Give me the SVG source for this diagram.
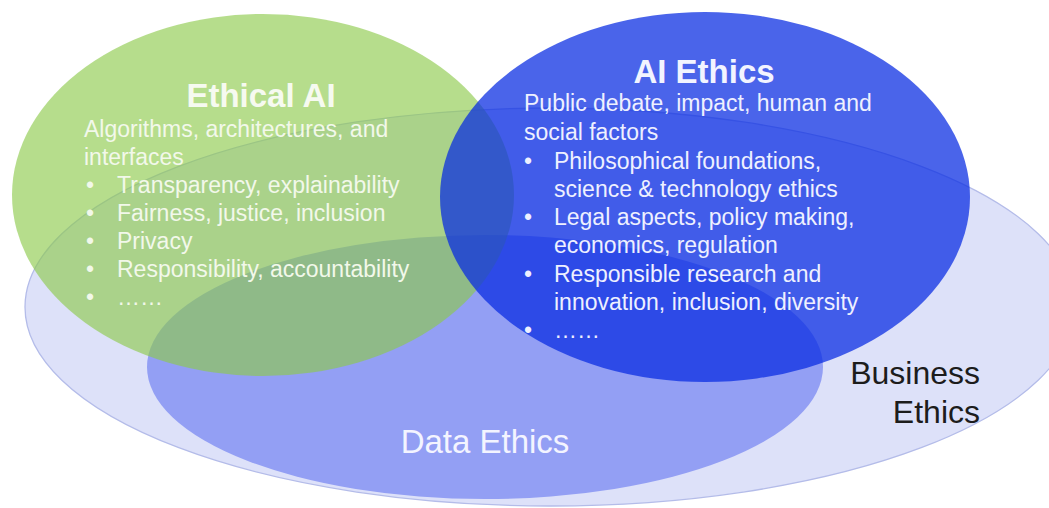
<svg xmlns="http://www.w3.org/2000/svg" width="1049" height="508" viewBox="0 0 1049 508">
<style>
text{font-family:"Liberation Sans",Arial,sans-serif;}
.title{font-size:33px;font-weight:bold;fill:#f6faf0;text-anchor:middle;}
.body{font-size:23px;}
.lt{fill:#f2f8ea;}
.lb{fill:#eef0ff;}
</style>
<rect x="0" y="0" width="1049" height="508" fill="#ffffff"/>
<g id="business-ethics">
<ellipse cx="550" cy="307" rx="525" ry="199" fill="#dde1f9" stroke="#b4bce9" stroke-width="1.3"/>
<text x="980" y="384" font-size="32" fill="#1c1c1c" text-anchor="end">Business</text>
<text x="980" y="423" font-size="32" fill="#1c1c1c" text-anchor="end">Ethics</text>
</g>
<g id="data-ethics">
<ellipse cx="485" cy="367" rx="338" ry="132" fill="#939ff4"/>
<text x="485" y="453" font-size="33" fill="#f3f4ff" text-anchor="middle">Data Ethics</text>
</g>
<g id="ethical-ai">
<ellipse cx="263" cy="195" rx="251" ry="181" fill="#8dca4b" fill-opacity="0.64"/>
<text class="title" x="261" y="107">Ethical AI</text>
<g class="body lt">
<text x="84" y="137">Algorithms, architectures, and</text>
<text x="84" y="165">interfaces</text>
<text x="86" y="193">•</text><text x="117" y="193">Transparency, explainability</text>
<text x="86" y="221">•</text><text x="117" y="221">Fairness, justice, inclusion</text>
<text x="86" y="249">•</text><text x="117" y="249">Privacy</text>
<text x="86" y="277">•</text><text x="117" y="277">Responsibility, accountability</text>
<text x="86" y="305">•</text><text x="117" y="305">……</text>
</g>
</g>
<g id="ai-ethics">
<ellipse cx="705" cy="197" rx="265" ry="185" fill="#072be2" fill-opacity="0.73"/>
<text class="title" x="704" y="83" style="fill:#f2f4ff">AI Ethics</text>
<g class="body lb">
<text x="524" y="111">Public debate, impact, human and</text>
<text x="524" y="140">social factors</text>
<text x="524" y="169">•</text><text x="554" y="169">Philosophical foundations,</text>
<text x="554" y="197">science &amp; technology ethics</text>
<text x="524" y="225">•</text><text x="554" y="225">Legal aspects, policy making,</text>
<text x="554" y="253">economics, regulation</text>
<text x="524" y="282">•</text><text x="554" y="282">Responsible research and</text>
<text x="554" y="310">innovation, inclusion, diversity</text>
<text x="524" y="338">•</text><text x="554" y="338">……</text>
</g>
</g>
<g id="connectors"/>
</svg>
